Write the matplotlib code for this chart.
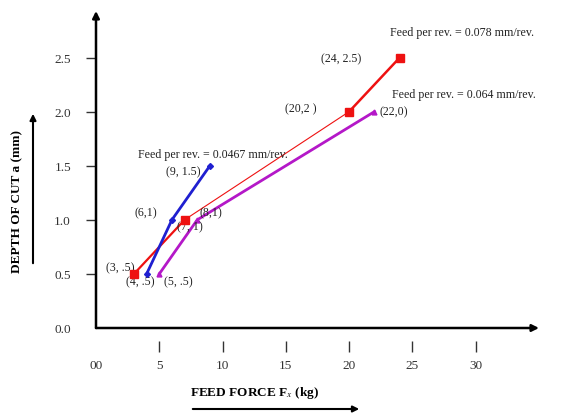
import matplotlib
matplotlib.use("Agg")
import matplotlib.pyplot as plt
import numpy as np

plt.rcParams['font.family'] = ['Liberation Serif', 'DejaVu Serif']
plt.rcParams['mathtext.fontset'] = 'stix'

# feed force (kg) vs depth of cut (mm) for three feed rates
feed_0467_x = [4, 6, 9]
feed_0467_y = [0.5, 1.0, 1.5]
feed_064_x = [5, 8, 22]
feed_064_y = [0.5, 1.0, 2.0]
feed_078_x = [3, 7, 20, 24]
feed_078_y = [0.5, 1.0, 2.0, 2.5]

xticks = [0, 5, 10, 15, 20, 25, 30]
xtick_labels = ['00', '5', '10', '15', '20', '25', '30']
yticks = [0.0, 0.5, 1.0, 1.5, 2.0, 2.5]

# text labels as in the original (typos kept)
notes = [
    ('Feed per rev. = 0.078 mm/rev.', 23.2, 2.74),
    ('(24, 2.5)', 17.8, 2.49),
    ('Feed per rev. = 0.064 mm/rev.', 23.4, 2.16),
    ('(20,2 )', 14.9, 2.03),
    ('(22,0)', 22.4, 2.0),
    ('Feed per rev. = 0.0467 mm/rev.', 3.3, 1.61),
    ('(9, 1.5)', 5.5, 1.45),
    ('(6,1)', 3.05, 1.07),
    ('(8,1)', 8.2, 1.07),
    ('(7, 1)', 6.4, 0.94),
    ('(3, .5)', 0.8, 0.56),
    ('(4, .5)', 2.4, 0.43),
    ('(5, .5)', 5.4, 0.43),
]

RED = '#ee1111'
BLUE = '#1f1fd0'
MAG = '#b418c8'

fig = plt.figure(figsize=(5.61, 4.14), dpi=100)
ax = fig.add_axes([96/561, (414-329)/414, (539-96)/561, (329-12)/414])
ax.set_xlim(0, 35)
ax.set_ylim(0, 2.93)

# red series: thin middle segment like the original
ax.plot(feed_078_x[:2], feed_078_y[:2], color=RED, lw=1.6, zorder=3)
ax.plot(feed_078_x[1:3], feed_078_y[1:3], color=RED, lw=0.8, zorder=3)
ax.plot(feed_078_x[2:], feed_078_y[2:], color=RED, lw=1.8, zorder=3)
ax.plot(feed_078_x, feed_078_y, ls='none', marker='s', ms=6, color=RED, zorder=5)

ax.plot(feed_0467_x, feed_0467_y, color=BLUE, lw=2, marker='D', ms=3, zorder=4)
ax.plot(feed_064_x, feed_064_y, color=MAG, lw=2, marker='^', ms=3.5, zorder=3)

for s, x, y in notes:
    ax.text(x, y, s, fontsize=8.6, va='center', ha='left', color='#222222')

for sp in ax.spines.values():
    sp.set_visible(False)

# axes with arrowheads
arrow = dict(arrowstyle='-|>', lw=1.8, color='k', mutation_scale=10, shrinkA=0, shrinkB=0)
ax.annotate('', xy=(1, 0), xytext=(0, 0), xycoords='axes fraction', arrowprops=arrow)
ax.annotate('', xy=(0, 1), xytext=(0, 0), xycoords='axes fraction', arrowprops=arrow)

ax.set_yticks(yticks)
ax.set_yticklabels(['%.1f' % v for v in yticks])
ax.tick_params(axis='y', length=7, width=1, pad=11, labelsize=9.5, colors='#333333')
ax.yaxis.get_major_ticks()[0].tick1line.set_visible(False)

ax.set_xticks(xticks)
ax.set_xticklabels(xtick_labels)
ax.tick_params(axis='x', length=0, pad=22, labelsize=9.5, colors='#333333')
# detached tick marks below the x axis
ax.vlines(xticks[1:], -0.076, -0.041, transform=ax.get_xaxis_transform(),
          color='#333333', lw=1, clip_on=False)

fig.text(190/561, 1 - 393/414, r'FEED FORCE F$_{x}$ (kg)', fontsize=9.5,
         fontweight='bold', ha='left', va='center')
fig.text(17/561, 1 - 202/414, 'DEPTH OF CUT a (mm)', fontsize=9.5,
         fontweight='bold', rotation=90, ha='center', va='center')

fig.patches.append(matplotlib.patches.FancyArrowPatch(
    (190/561, 1 - 410/414), (362/561, 1 - 410/414), transform=fig.transFigure,
    arrowstyle='-|>', mutation_scale=9, lw=1.5, color='k'))
fig.patches.append(matplotlib.patches.FancyArrowPatch(
    (33/561, 1 - 267/414), (33/561, 1 - 112/414), transform=fig.transFigure,
    arrowstyle='-|>', mutation_scale=9, lw=1.5, color='k'))

fig.savefig('out.png', dpi=100, facecolor='white')
